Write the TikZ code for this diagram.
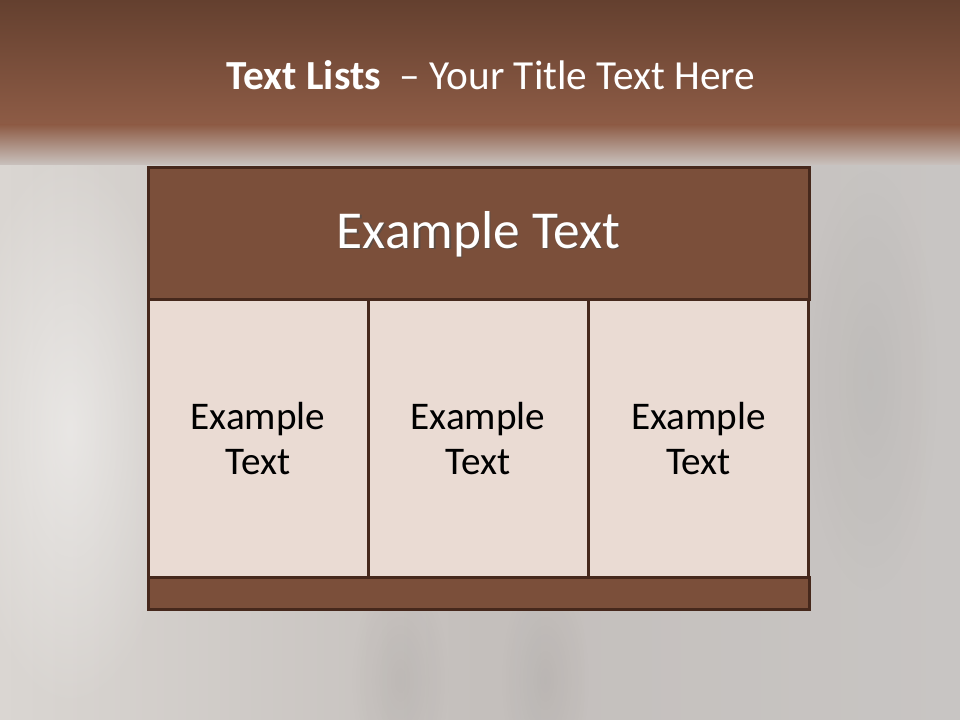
\documentclass[tikz,border=0pt]{standalone}
\usepackage{fontspec}
\setmainfont{Carlito}
\usepackage{xcolor}
\usepackage{tikz}
\usetikzlibrary{positioning,calc,shadings,fadings}
\definecolor{bandtop}{RGB}{100,64,47}
\definecolor{bandlow}{RGB}{142,92,70}
\definecolor{fadegray}{RGB}{205,196,192}
\definecolor{bgleft}{RGB}{218,214,210}
\definecolor{bgmid}{RGB}{196,191,188}
\definecolor{bgright}{RGB}{200,197,195}
\definecolor{boxbrown}{RGB}{123,79,58}
\definecolor{boxedge}{RGB}{70,40,28}
\definecolor{cellpink}{RGB}{234,219,211}
\tikzfading[name=softblob,inner color=transparent!0,outer color=transparent!100]

\tikzset{
  panel/.style={rectangle,draw=boxedge,line width=2.25pt,inner sep=0pt,outer sep=0pt},
  headbox/.style={panel,fill=boxbrown,minimum width=495.75pt,minimum height=99pt},
  headfont/.style={font=\fontsize{40}{48}\selectfont},
  cellbox/.style={panel,fill=cellpink,minimum width=165pt,minimum height=207.75pt,
    align=center,font=\fontsize{29.4}{34}\selectfont},
  footbox/.style={panel,fill=boxbrown,minimum width=495.75pt,minimum height=24pt},
  blob/.style={path fading=softblob}
}

\begin{document}
\begin{tikzpicture}[x=0.75pt,y=-0.75pt]
  \useasboundingbox (0,0) rectangle (960,720);
  % background
  \fill[left color=bgleft,right color=bgright,middle color=bgmid] (0,150) rectangle (960,720);
  \fill[white,opacity=0.45,blob] (70,430) ellipse (110 and 280);
  \fill[black,opacity=0.05,blob] (400,680) ellipse (50 and 110);
  \fill[black,opacity=0.05,blob] (545,680) ellipse (45 and 110);
  \fill[black,opacity=0.04,blob] (870,380) ellipse (70 and 220);
  \fill[top color=bandtop,bottom color=bandlow] (0,0) rectangle (960,126);
  \fill[top color=bandlow,bottom color=fadegray!60!bgmid] (0,125) rectangle (960,165);
  % title
  \node[text=white,font=\fontsize{31}{37}\selectfont] (title) at (491,75)
    {\textbf{Text Lists}\ \ – Your Title Text Here};
  % table
  \node[headbox] (head) at (478.5,234) {};
  \node[headfont,text=black!70,opacity=0.6] at ($(head)+(1.5,1.5)$) {Example Text};
  \node[headfont,text=white] (headtext) at (head) {Example Text};
  \foreach \x/\n in {258/1,478/2,698.5/3}{
    \node[cellbox] (cell\n) at (\x,438.5) {Example\\Text};
  }
  \node[footbox] (foot) at (478.5,593) {};
\end{tikzpicture}
\end{document}
